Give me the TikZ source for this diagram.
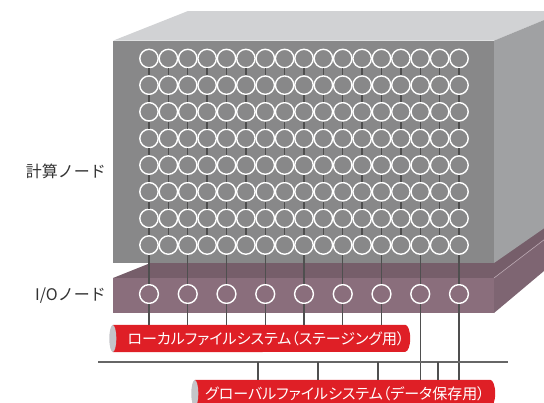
\documentclass[tikz,border=0pt]{standalone}
\usepackage{fontspec}
\newfontfamily\jpfont[RawFeature=+palt]{Noto Sans CJK JP}
\newfontfamily\jplabel{Noto Sans CJK JP}
\definecolor{frontgray}{HTML}{888889}
\definecolor{topgray}{HTML}{D1D2D4}
\definecolor{sidegray}{HTML}{A0A1A3}
\definecolor{slabfront}{HTML}{8A6E7C}
\definecolor{slabtop}{HTML}{765E6A}
\definecolor{slabside}{HTML}{7E6572}
\definecolor{slabedge}{HTML}{B9A6B0}
\definecolor{fsred}{HTML}{DF1F26}
\definecolor{capgray}{HTML}{C4C5C9}
\definecolor{linegray}{HTML}{4F4F4F}
\definecolor{busgray}{HTML}{666666}
\definecolor{labelcol}{HTML}{333333}
\tikzset{
  cnode/.style={circle, draw=white, line width=1.4pt, minimum size=18.4pt, inner sep=0pt},
  ionode/.style={circle, draw=white, line width=1.4pt, minimum size=18.8pt, inner sep=0pt},
  tick/.style={draw=linegray, line width=1.3pt},
  conn/.style={draw=linegray, line width=1.3pt},
  bus/.style={draw=busgray, line width=2pt},
  fsbody/.style={rectangle, inner sep=0pt, minimum height=27pt},
  fstext/.style={text=white, font=\jpfont\fontsize{15}{15}\selectfont, inner sep=0pt},
  lbl/.style={text=labelcol, font=\jplabel\fontsize{16}{16}\selectfont, inner sep=0pt, anchor=east}
}
\begin{document}
\begin{tikzpicture}[x=1pt, y=-1pt]
\useasboundingbox (0,0) rectangle (544,402);
\clip (0,0) rectangle (544,402);
% I/O slab
\fill[slabtop] (113,278) -- (188,248) -- (566,223) -- (494,278) -- cycle;
\fill[slabside] (494,278) -- (566,223) -- (566,252.5) -- (494,313) -- cycle;
\fill[slabfront] (113,278) rectangle (494,313);
\draw[slabedge, line width=0.6pt] (494,278) -- (566,223);
% compute box
\fill[topgray] (113,40.7) -- (188,11) -- (566,11) -- (494,40.7) -- cycle;
\fill[sidegray] (494,40.7) -- (566,11) -- (566,213) -- (494,263) -- cycle;
\fill[frontgray] (113,40.7) rectangle (494,263);
% compute nodes
\foreach \i in {0,...,7} {
  \foreach \j in {0,...,16} {
    \node[cnode] (c-\i-\j) at ({149+19.375*\j},{58.5+26.65*\i}) {};
  }
}
\foreach \i [evaluate=\i as \n using int(\i+1)] in {0,...,6} {
  \foreach \j in {0,...,16} {
    \draw[tick] (c-\i-\j.south) -- (c-\n-\j.north);
  }
}
% I/O nodes
\foreach \k [evaluate=\k as \c using int(2*\k)] in {0,...,8} {
  \node[ionode] (io-\k) at ({149+38.75*\k},294) {};
  \draw[conn] (c-7-\c.south) -- (io-\k.north);
}
% labels
\node[lbl] (lcomp) at (106,171) {計算ノード};
\node[lbl] (lio) at (106,295.5) {I/Oノード};
% local file system
\node[fsbody, minimum width=297pt] (lfs) at (261.5,338.5) {};
\fill[fsred] (lfs.north west) -- ([xshift=-5pt]lfs.north east)
  arc[start angle=90, end angle=-90, x radius=5pt, y radius=13.5pt]
  -- (lfs.south west) -- cycle;
\fill[capgray] (lfs.west) ellipse[x radius=3.5pt, y radius=13.5pt];
\node[fstext] (lfstext) at (266,338.5) {ローカルファイルシステム（ステージング用）};
% global file system
\node[fsbody, minimum width=300pt] (gfs) at (345,393.5) {};
\fill[fsred] (gfs.north west) -- ([xshift=-5pt]gfs.north east)
  arc[start angle=90, end angle=-90, x radius=5pt, y radius=13.5pt]
  -- (gfs.south west) -- cycle;
\fill[capgray] (gfs.west) ellipse[x radius=3.5pt, y radius=13.5pt];
\node[fstext] (gfstext) at (345,393.5) {グローバルファイルシステム（データ保存用）};
% connections to file systems
\foreach \k in {0,...,6} {
  \draw[conn] (io-\k.south) -- (io-\k.south |- lfs.north);
}
\foreach \k in {7,8} {
  \draw[conn] (io-\k.south) -- (io-\k.south |- gfs.north);
}
\coordinate (busL) at (98,362);
\coordinate (busR) at (508,362);
\draw[bus] (busL) -- (busR);
\foreach \x [count=\m] in {258,318,378,438} {
  \coordinate (drop\m) at (\x,362);
  \draw[conn] (drop\m) -- (drop\m |- gfs.north);
}
\end{tikzpicture}
\end{document}
